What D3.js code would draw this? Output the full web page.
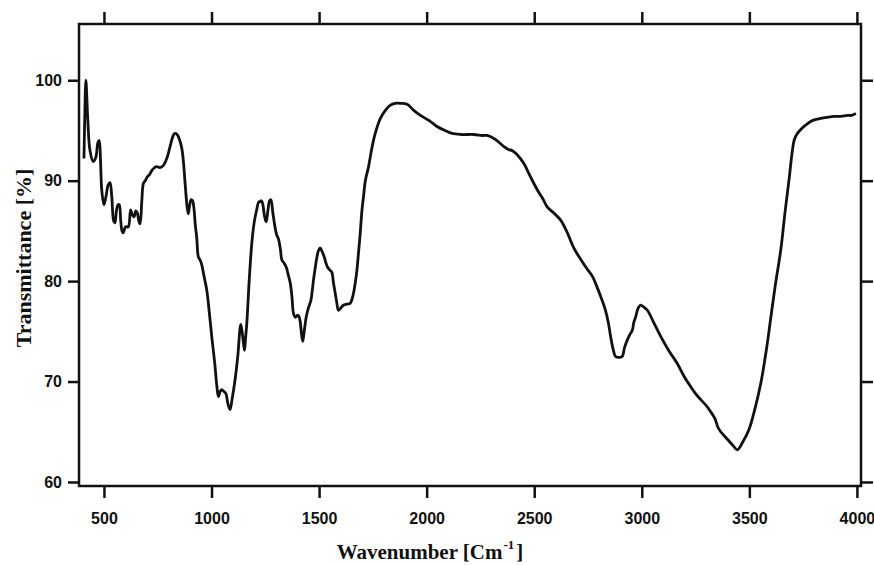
<!DOCTYPE html>
<html>
<head>
<meta charset="utf-8">
<script src="https://cdn.jsdelivr.net/npm/d3@7"></script>
<style>
  html, body { margin: 0; padding: 0; background: #fff; }
  .chart-container { width: 874px; height: 565px; }
  .tick text { font-family: "Liberation Sans", Arial, sans-serif; font-weight: bold; font-size: 16px; fill: #111; }
  .axis-title { font-family: "Liberation Serif", "Times New Roman", serif; font-weight: bold; fill: #111; }
</style>
</head>
<body>
<script>
//---->DATA<----------------------------------//
const wavenumber = [
  407, 410, 416, 425, 435, 450, 462, 472, 478, 484, 490, 500, 510, 520, 528, 536, 545, 551, 558, 565,
  571, 578, 584, 590, 600, 613, 624, 632, 640, 648, 655, 662, 668, 676, 683, 692, 702, 712, 722, 735,
  745, 760, 776, 790, 799, 812, 822, 830, 840, 854, 862, 869, 878, 886, 892, 898, 905, 912, 918, 925,
  931, 939, 947, 955, 965, 978, 990, 1001, 1015, 1025, 1032, 1040, 1047, 1058, 1067, 1076, 1086, 1096, 1109, 1122,
  1136, 1145, 1153, 1158, 1164, 1175, 1187, 1198, 1210, 1220, 1226, 1232, 1238, 1246, 1254, 1262, 1270, 1276, 1285, 1295,
  1303, 1311, 1320, 1327, 1337, 1347, 1357, 1366, 1374, 1381, 1390, 1400, 1406, 1412, 1418, 1424, 1432, 1440, 1450, 1462,
  1468, 1474, 1482, 1490, 1498, 1505, 1515, 1524, 1532, 1539, 1550, 1559, 1567, 1575, 1582, 1590, 1600, 1613, 1630, 1645,
  1653, 1660, 1668, 1676, 1684, 1691, 1699, 1707, 1715, 1730, 1745, 1761, 1785, 1808, 1830, 1854, 1880, 1909, 1940, 1971,
  2010, 2048, 2085, 2118, 2160, 2219, 2260, 2281, 2320, 2359, 2380, 2397, 2420, 2452, 2480, 2514, 2540, 2560, 2590, 2622,
  2650, 2684, 2715, 2746, 2770, 2792, 2812, 2831, 2845, 2855, 2866, 2878, 2893, 2909, 2920, 2932, 2945, 2956, 2963, 2971,
  2983, 2995, 3010, 3026, 3055, 3088, 3125, 3165, 3197, 3227, 3250, 3274, 3300, 3320, 3340, 3355, 3367, 3400, 3425, 3444,
  3470, 3498, 3525, 3553, 3578, 3600, 3620, 3646, 3665, 3685, 3700, 3708, 3720, 3739, 3760, 3785, 3810, 3832, 3860, 3894,
  3925, 3956, 3975, 3995
];

const transmittance = [
  92.2, 95.5, 100, 96, 93, 91.9, 92.3, 93.8, 94, 92, 89, 87.6, 88.5, 89.6, 89.8, 88.5, 86, 85.8, 87, 87.6,
  87.6, 86, 85, 84.8, 85.4, 85.4, 87.1, 86.6, 86.4, 87, 86.8, 86.0, 85.7, 88, 89.7, 90, 90.4, 90.6, 91.0, 91.3,
  91.4, 91.3, 91.5, 92.1, 92.7, 93.8, 94.5, 94.7, 94.6, 93.9, 93.2, 92.0, 89.5, 87.5, 86.7, 87.5, 88.1, 88.0, 87.3, 85.5,
  84.4, 82.4, 82.1, 81.6, 80.5, 79.1, 76.8, 74.5, 71.8, 69.5, 68.5, 69.0, 69.2, 69.0, 68.8, 67.8, 67.2, 68.3, 70.1, 72.5,
  75.7, 74.5, 73.1, 74.3, 75.8, 80, 83.7, 85.8, 87.1, 87.9, 87.9, 88, 87.7, 86.5, 85.9, 87, 88, 88.1, 86.8, 85.4,
  84.6, 84.2, 83.2, 82.1, 81.8, 81.4, 80.6, 79.8, 78.4, 76.8, 76.4, 76.6, 76.5, 76.0, 74.8, 74.0, 75.2, 76.4, 77.3, 78.1,
  79.0, 80.1, 81.3, 82.4, 83.1, 83.3, 82.9, 82.4, 81.8, 81.4, 81.1, 80.9, 79.8, 78.8, 77.9, 77.1, 77.3, 77.6, 77.7, 77.8,
  78.2, 78.8, 79.8, 81.1, 83, 84.7, 87, 88.5, 90, 91.4, 93.2, 94.7, 96.2, 97.0, 97.5, 97.7, 97.7, 97.6, 97.0, 96.5,
  96.0, 95.4, 95.0, 94.7, 94.6, 94.6, 94.5, 94.5, 94.1, 93.4, 93.1, 93.0, 92.6, 91.7, 90.5, 89.1, 88.2, 87.4, 86.8, 86.1,
  85.0, 83.3, 82.2, 81.2, 80.5, 79.4, 78.3, 77.1, 75.8, 74.5, 73.3, 72.5, 72.4, 72.5, 73.4, 74.1, 74.7, 75.1, 75.9, 76.4,
  77.3, 77.6, 77.4, 77.1, 75.9, 74.5, 73.1, 71.8, 70.5, 69.5, 68.8, 68.2, 67.6, 67.0, 66.3, 65.4, 65.0, 64.2, 63.6, 63.2,
  64.0, 65.2, 67.2, 69.8, 73.0, 76.4, 79.5, 83.1, 86.7, 90.2, 93.0, 94.0, 94.6, 95.1, 95.5, 95.9, 96.1, 96.2, 96.3, 96.4,
  96.4, 96.5, 96.5, 96.7
];

const xTicks = [500, 1000, 1500, 2000, 2500, 3000, 3500, 4000];
const yTicks = [60, 70, 80, 90, 100];

const xTitle = 'Wavenumber [Cm';
const xTitleSup = '-1';
const yTitle = 'Transmittance [%]';

//---->GLOBALS<-----//
const container = d3.select('body').append('div').attr('class', 'chart-container');

let svg, g;
let outerW, outerH, margin, w, h;
let x, y;

function build() {
  container.selectAll('*').remove();

  svg = container.append('svg')
    .attr('width', outerW)
    .attr('height', outerH);

  g = svg.append('g')
    .attr('transform', `translate(${margin.left},${margin.top})`);

  const fmt = d3.format('d');

  // ticks on all four sides, labels only left and bottom
  const axes = [
    { gen: d3.axisBottom(x).tickValues(xTicks).tickFormat(fmt).tickSize(12).tickPadding(15), tr: `translate(0,${h})`, labels: true },
    { gen: d3.axisTop(x).tickValues(xTicks).tickSize(12), tr: null, labels: false },
    { gen: d3.axisLeft(y).tickValues(yTicks).tickFormat(fmt).tickSize(11).tickPadding(6), tr: null, labels: true },
    { gen: d3.axisRight(y).tickValues(yTicks).tickSize(12), tr: `translate(${w},0)`, labels: false }
  ];

  axes.forEach(a => {
    const ax = g.append('g').attr('class', 'axis').call(a.gen);
    if (a.tr) ax.attr('transform', a.tr);
    ax.select('.domain').remove();
    ax.selectAll('.tick line').attr('stroke', '#111').attr('stroke-width', 2.5);
    if (!a.labels) ax.selectAll('.tick text').remove();
  });

  // frame
  g.append('rect')
    .attr('width', w)
    .attr('height', h)
    .attr('fill', 'none')
    .attr('stroke', '#111')
    .attr('stroke-width', 2.5);

  const line = d3.line()
    .x((d, i) => x(wavenumber[i]))
    .y(d => y(d))
    .curve(d3.curveCatmullRom.alpha(0.5));

  g.append('path')
    .datum(transmittance)
    .attr('fill', 'none')
    .attr('stroke', '#111')
    .attr('stroke-width', 2.8)
    .attr('stroke-linejoin', 'round')
    .attr('d', line);

  // axis titles
  const xt = svg.append('text')
    .attr('class', 'axis-title')
    .attr('x', 430)
    .attr('y', 559)
    .attr('text-anchor', 'middle')
    .style('font-size', '21px');
  xt.append('tspan').text(xTitle);
  xt.append('tspan').attr('dy', -10).attr('dx', 1).style('font-size', '13px').text(xTitleSup);
  xt.append('tspan').attr('dy', 10).attr('dx', 2).text(']');

  svg.append('text')
    .attr('class', 'axis-title')
    .attr('transform', 'translate(31,258) rotate(-90)')
    .attr('text-anchor', 'middle')
    .style('font-size', '22px')
    .text(yTitle);
}

function setup() {
  outerW = 874;
  outerH = 565;

  margin = { left: 79, right: 13, top: 24, bottom: 79 };

  w = outerW - margin.left - margin.right;
  h = outerH - margin.top - margin.bottom;

  x = d3.scaleLinear().domain([384, 4019]).range([0, w]);
  y = d3.scaleLinear().domain([59.6, 105.6]).range([h, 0]);

  build();
}

setup();
</script>
</body>
</html>
